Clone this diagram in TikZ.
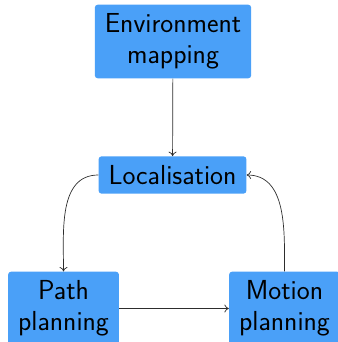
\documentclass[tikz,border=0pt]{standalone}
\usetikzlibrary{arrows.meta}
\definecolor{boxblue}{RGB}{74,160,248}
\definecolor{linegray}{RGB}{45,45,45}
\begin{document}
\begin{tikzpicture}[x=1pt,y=1pt,
  box/.style={fill=boxblue, rounded corners=3pt, align=center, inner xsep=10pt, inner ysep=9pt,
    font=\sffamily\fontsize{27.5}{31}\selectfont},
  conn/.style={draw=linegray, line width=0.7pt, -{To[length=4.5pt,width=8pt]}}]
\useasboundingbox (0,0) rectangle (337,-342);
\node[box] (env) at (173,-41.5) {Environment\\mapping};
\node[box] (loc) at (172.5,-175) {Localisation};
\node[box] (path) at (63.5,-308.5) {Path\\planning};
\node[box] (motion) at (284.5,-308.5) {Motion\\planning};
\draw[conn] (env) -- (loc);
\draw[conn] (loc.west) to[out=180,in=90] (path.north);
\draw[conn] (path) -- (motion);
\draw[conn] (motion.north) to[out=90,in=0] (loc.east);
\end{tikzpicture}
\end{document}
